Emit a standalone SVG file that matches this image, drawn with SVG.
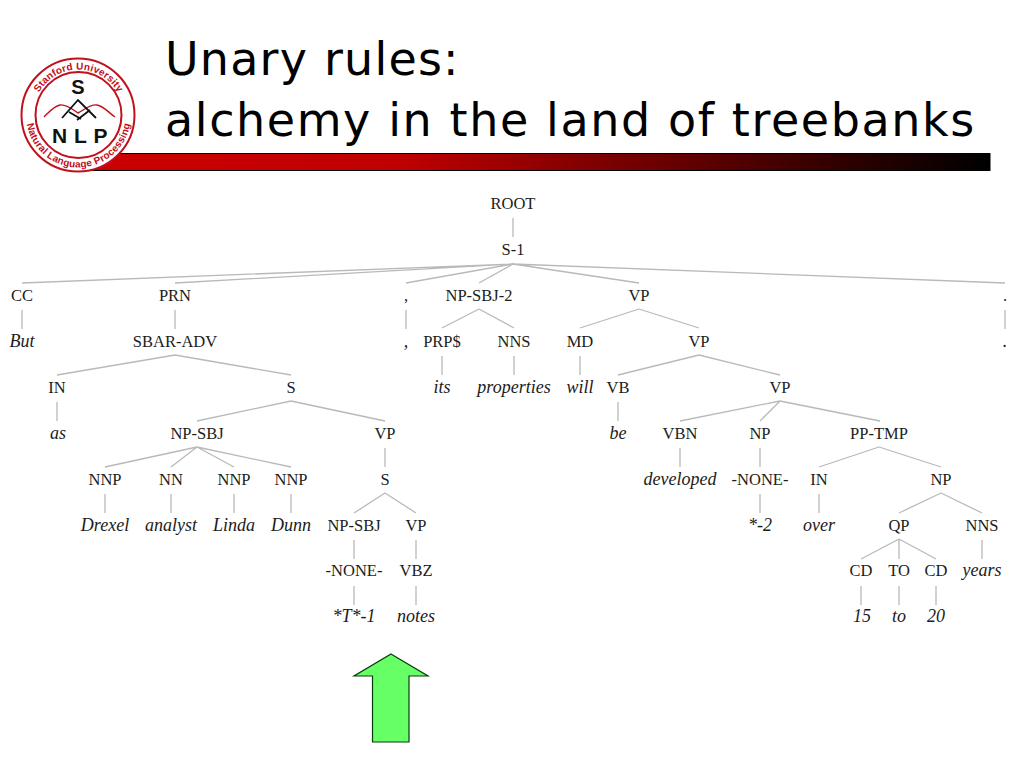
<svg xmlns="http://www.w3.org/2000/svg" width="1024" height="768" viewBox="0 0 1024 768">
<style>
.t{font-family:"Liberation Serif","Times New Roman",serif;font-size:16.500px;fill:#1c1c1c;text-anchor:middle}
.i{font-style:italic;font-size:18px}
.h{font-family:"DejaVu Sans",sans-serif;font-size:46px;fill:#000;letter-spacing:1.600px}
.e{stroke:#b9b9b9;stroke-width:1.300;fill:none}
.l{font-family:"Liberation Sans",Arial,sans-serif;font-weight:bold;fill:#c0101c;text-anchor:middle;font-size:10px;letter-spacing:.2px}
.b{font-family:"Liberation Sans",Arial,sans-serif;font-weight:bold;fill:#111;text-anchor:middle}
</style>
<defs>
<linearGradient id="bar" x1="0" x2="1" y1="0" y2="0"><stop offset="0" stop-color="#cc0000"/><stop offset="0.35" stop-color="#c00000"/><stop offset="1" stop-color="#000"/></linearGradient>
<path id="arcTop" d="M33,115 A45.500,45.500 0 0 1 124,115"/>
<path id="arcBot" d="M26,115 A52.500,52.500 0 0 0 131,115"/>
</defs>
<rect width="1024" height="768" fill="#fff"/>
<g id="title">
<text class="h" x="165" y="75" style="letter-spacing:1.200px">Unary rules:</text>
<text class="h" x="165" y="136">alchemy in the land of treebanks</text>
</g>
<rect id="title-bar" x="80" y="153.500" width="910" height="17" fill="url(#bar)" stroke="#000" stroke-width="1"/>
<g id="logo">
<circle cx="78" cy="115" r="56.500" fill="#fff" stroke="#c0101c" stroke-width="2"/>
<circle cx="78.500" cy="115" r="43" fill="#fff" stroke="#c0101c" stroke-width="2"/>
<text class="l"><textPath href="#arcTop" startOffset="50%">Stanford University</textPath></text>
<text class="l"><textPath href="#arcBot" startOffset="50%">Natural Language Processing</textPath></text>
<text class="b" x="78" y="94" font-size="20">S</text>
<path d="M44,117 C49,112 54,106 60,105 C66,104 72,109 78,113 C84,110 90,104 97,105 C104,106 110,114 115,117" fill="none" stroke="#c0101c" stroke-width="1.400"/>
<path d="M62,118 L78,100 L96,118 M69,112 L81,119 M90,110 L77,120" fill="none" stroke="#111" stroke-width="1.800"/>
<text class="b" x="80" y="143" font-size="21" letter-spacing=".5">N L P</text>
</g>
<g id="connectors">
<path class="e" d="M513,218V237"/>
<path class="e" d="M513,264L22,283M513,264L175,283M513,264L406,283M513,264L479,283M513,264L639,283M513,264L1005,283"/>
<path class="e" d="M22,310V329M175,310V329M406,310V329M1005,310V329"/>
<path class="e" d="M479,309L442,328M479,309L514,328M639,309L580,328M639,309L699,328"/>
<path class="e" d="M175,355L57,375M175,355L291,375M699,355L618,375M699,355L780,375"/>
<path class="e" d="M442,356V375M514,356V375M580,356V375"/>
<path class="e" d="M57,402V421M618,402V421"/>
<path class="e" d="M291,401L197,421M291,401L385,421M780,401L680,421M780,401L760,421M780,401L880,421"/>
<path class="e" d="M197,447L105,467M197,447L171,467M197,447L234,467M197,447L291,467"/>
<path class="e" d="M385,448V467M680,448V467M760,448V467"/>
<path class="e" d="M879,447L819,467M879,447L941,467"/>
<path class="e" d="M105,494V513M171,494V513M234,494V513M291,494V513M819,494V513M760,494V513"/>
<path class="e" d="M385,493L354,513M385,493L416,513M941,493L899,513M941,493L982,513"/>
<path class="e" d="M354,540V559M416,540V559M982,540V559"/>
<path class="e" d="M899,539L861,559M899,539V559M899,539L936,559"/>
<path class="e" d="M354,586V605M416,586V605M861,586V605M899,586V605M936,586V605"/>
</g>
<g id="n1"><text class="t" x="513" y="209">ROOT</text></g>
<g id="n2"><text class="t" x="513" y="255">S-1</text></g>
<g id="n3"><text class="t" x="22" y="301">CC</text></g>
<g id="n4"><text class="t" x="175" y="301">PRN</text></g>
<g id="n5"><text class="t" x="406" y="301">,</text></g>
<g id="n6"><text class="t" x="479" y="301">NP-SBJ-2</text></g>
<g id="n7"><text class="t" x="639" y="301">VP</text></g>
<g id="n8"><text class="t" x="1005" y="301">.</text></g>
<g id="n9"><text class="t i" x="22" y="347">But</text></g>
<g id="n10"><text class="t" x="175" y="347">SBAR-ADV</text></g>
<g id="n11"><text class="t i" x="406" y="347">,</text></g>
<g id="n12"><text class="t" x="442" y="347">PRP$</text></g>
<g id="n13"><text class="t" x="514" y="347">NNS</text></g>
<g id="n14"><text class="t" x="580" y="347">MD</text></g>
<g id="n15"><text class="t" x="699" y="347">VP</text></g>
<g id="n16"><text class="t i" x="1005" y="347">.</text></g>
<g id="n17"><text class="t" x="57" y="393">IN</text></g>
<g id="n18"><text class="t" x="291" y="393">S</text></g>
<g id="n19"><text class="t i" x="442" y="393">its</text></g>
<g id="n20"><text class="t i" x="514" y="393">properties</text></g>
<g id="n21"><text class="t i" x="580" y="393">will</text></g>
<g id="n22"><text class="t" x="618" y="393">VB</text></g>
<g id="n23"><text class="t" x="780" y="393">VP</text></g>
<g id="n24"><text class="t i" x="58" y="439">as</text></g>
<g id="n25"><text class="t" x="197" y="439">NP-SBJ</text></g>
<g id="n26"><text class="t" x="385" y="439">VP</text></g>
<g id="n27"><text class="t i" x="618" y="439">be</text></g>
<g id="n28"><text class="t" x="680" y="439">VBN</text></g>
<g id="n29"><text class="t" x="760" y="439">NP</text></g>
<g id="n30"><text class="t" x="879" y="439">PP-TMP</text></g>
<g id="n31"><text class="t" x="105" y="485">NNP</text></g>
<g id="n32"><text class="t" x="171" y="485">NN</text></g>
<g id="n33"><text class="t" x="234" y="485">NNP</text></g>
<g id="n34"><text class="t" x="291" y="485">NNP</text></g>
<g id="n35"><text class="t" x="385" y="485">S</text></g>
<g id="n36"><text class="t i" x="680" y="485">developed</text></g>
<g id="n37"><text class="t" x="760" y="485">-NONE-</text></g>
<g id="n38"><text class="t" x="819" y="485">IN</text></g>
<g id="n39"><text class="t" x="941" y="485">NP</text></g>
<g id="n40"><text class="t i" x="105" y="531">Drexel</text></g>
<g id="n41"><text class="t i" x="171" y="531">analyst</text></g>
<g id="n42"><text class="t i" x="234" y="531">Linda</text></g>
<g id="n43"><text class="t i" x="291" y="531">Dunn</text></g>
<g id="n44"><text class="t" x="354" y="531">NP-SBJ</text></g>
<g id="n45"><text class="t" x="416" y="531">VP</text></g>
<g id="n46"><text class="t i" x="760" y="531">*-2</text></g>
<g id="n47"><text class="t i" x="819" y="531">over</text></g>
<g id="n48"><text class="t" x="899" y="531">QP</text></g>
<g id="n49"><text class="t" x="982" y="531">NNS</text></g>
<g id="n50"><text class="t" x="354" y="576">-NONE-</text></g>
<g id="n51"><text class="t" x="416" y="576">VBZ</text></g>
<g id="n52"><text class="t" x="861" y="576">CD</text></g>
<g id="n53"><text class="t" x="899" y="576">TO</text></g>
<g id="n54"><text class="t" x="936" y="576">CD</text></g>
<g id="n55"><text class="t i" x="982" y="576">years</text></g>
<g id="n56"><text class="t i" x="354" y="622">*T*-1</text></g>
<g id="n57"><text class="t i" x="416" y="622">notes</text></g>
<g id="n58"><text class="t i" x="862" y="622">15</text></g>
<g id="n59"><text class="t i" x="899" y="622">to</text></g>
<g id="n60"><text class="t i" x="936" y="622">20</text></g>
<path id="arrow" d="M391,654 L428,676 H409 V742 H372.500 V676 H354 Z" fill="#66ff66" stroke="#0a3a0a" stroke-width="1.200"/>
</svg>
